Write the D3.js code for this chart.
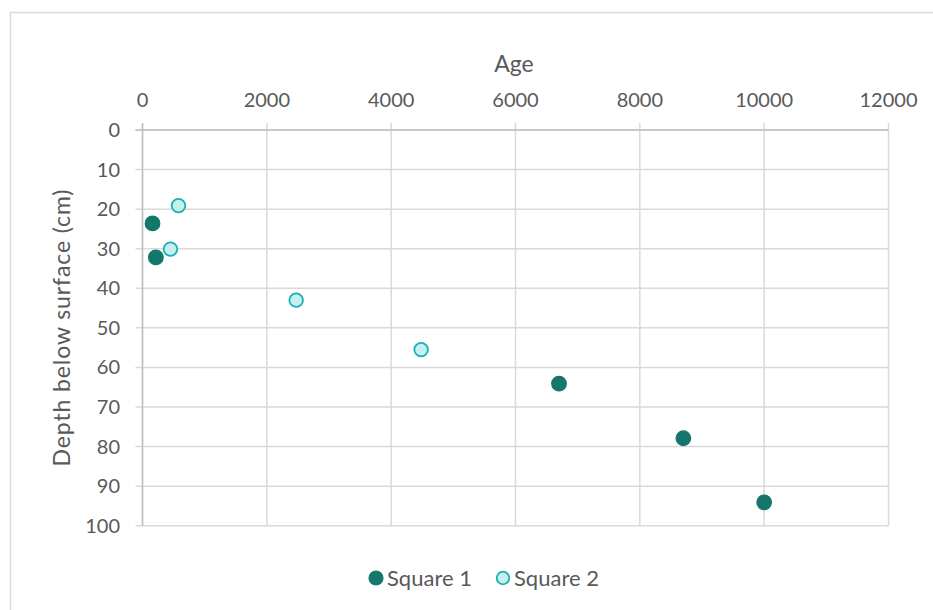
<!DOCTYPE html>
<html>
<head>
<meta charset="utf-8">
<script src="https://cdn.jsdelivr.net/npm/d3@7/dist/d3.min.js"></script>
<style>
  html, body { margin: 0; padding: 0; background: #fff; }
  svg { display: block; }
  text { font-family: Lato, "Open Sans", sans-serif; fill: #595959; }
</style>
</head>
<body>
<svg id="chart" width="933" height="610"></svg>
<script>
// Radiocarbon ages vs depth for two excavation squares
const square1Age   = [161, 215, 6700, 8700, 10000];
const square1Depth = [23.6, 32.2, 64.1, 77.9, 94.1];
const square2Age   = [579, 450, 2472, 4482];
const square2Depth = [19.1, 30.1, 43.0, 55.5];
const xTicks = [0, 2000, 4000, 6000, 8000, 10000, 12000];
const yTicks = [0, 10, 20, 30, 40, 50, 60, 70, 80, 90, 100];
const seriesNames = ["Square 1", "Square 2"];

const svg = d3.select("#chart");
const W = 933, H = 610;
const plot = { left: 142.5, right: 888.5, top: 130, bottom: 525.7 };

// outer chart frame
svg.append("rect")
  .attr("x", 10.5).attr("y", 12.5)
  .attr("width", W + 10).attr("height", H + 10)
  .attr("fill", "#fff").attr("stroke", "#d9d9d9").attr("stroke-width", 1.5);

const x = d3.scaleLinear().domain([0, 12000]).range([plot.left, plot.right]);
const y = d3.scaleLinear().domain([0, 100]).range([plot.top, plot.bottom]);

const grid = svg.append("g");
// vertical gridlines (with tick extension above the plot)
grid.selectAll("line.vx").data(xTicks).join("line")
  .attr("x1", d => x(d)).attr("x2", d => x(d))
  .attr("y1", plot.top - 7).attr("y2", plot.bottom)
  .attr("stroke", "#d9d9d9").attr("stroke-width", 1.5);
// horizontal gridlines (with tick extension to the left)
grid.selectAll("line.hy").data(yTicks).join("line")
  .attr("x1", plot.left - 7).attr("x2", plot.right)
  .attr("y1", d => y(d)).attr("y2", d => y(d))
  .attr("stroke", "#d9d9d9").attr("stroke-width", 1.5);

// axis lines
svg.append("line")
  .attr("x1", plot.left).attr("x2", plot.left)
  .attr("y1", plot.top - 7).attr("y2", plot.bottom)
  .attr("stroke", "#bfbfbf").attr("stroke-width", 1.5);
svg.append("line")
  .attr("x1", plot.left - 7).attr("x2", plot.right)
  .attr("y1", plot.top).attr("y2", plot.top)
  .attr("stroke", "#bfbfbf").attr("stroke-width", 1.5);

// tick labels
svg.selectAll("text.xt").data(xTicks).join("text")
  .attr("class", "xt")
  .attr("x", d => x(d)).attr("y", 107)
  .attr("text-anchor", "middle")
  .attr("font-size", 20)
  .text(d => d);
svg.selectAll("text.yt").data(yTicks).join("text")
  .attr("class", "yt")
  .attr("x", 120).attr("y", d => y(d) + 7)
  .attr("text-anchor", "end")
  .attr("font-size", 20)
  .text(d => d);

// axis titles
svg.append("text")
  .attr("x", 514).attr("y", 72)
  .attr("text-anchor", "middle").attr("font-size", 23)
  .text("Age");
svg.append("text")
  .attr("transform", "translate(70,328) rotate(-90)")
  .attr("text-anchor", "middle").attr("font-size", 23)
  .attr("textLength", 277).attr("lengthAdjust", "spacing")
  .text("Depth below surface (cm)");

const s1 = square1Age.map((a, i) => ({ a, d: square1Depth[i] }));
const s2 = square2Age.map((a, i) => ({ a, d: square2Depth[i] }));

const c1 = { fill: "#15766b", stroke: "#15766b" };
const c2 = { fill: "#c4f1ed", stroke: "#1aafb6" };

svg.append("g").selectAll("circle").data(s1).join("circle")
  .attr("cx", d => x(d.a)).attr("cy", d => y(d.d)).attr("r", 7.3)
  .attr("fill", c1.fill).attr("stroke", c1.stroke).attr("stroke-width", 1.2);
svg.append("g").selectAll("circle").data(s2).join("circle")
  .attr("cx", d => x(d.a)).attr("cy", d => y(d.d)).attr("r", 6.8)
  .attr("fill", c2.fill).attr("stroke", c2.stroke).attr("stroke-width", 1.8);

// legend
const legend = svg.append("g");
const legendItems = [
  { name: seriesNames[0], cx: 376, c: c1, r: 7, sw: 1.2 },
  { name: seriesNames[1], cx: 503, c: c2, r: 6.3, sw: 1.8 }
];
legendItems.forEach(it => {
  legend.append("circle")
    .attr("cx", it.cx).attr("cy", 578).attr("r", it.r)
    .attr("fill", it.c.fill).attr("stroke", it.c.stroke).attr("stroke-width", it.sw);
  legend.append("text")
    .attr("x", it.cx + 11).attr("y", 586)
    .attr("font-size", 22)
    .text(it.name);
});
</script>
</body>
</html>
